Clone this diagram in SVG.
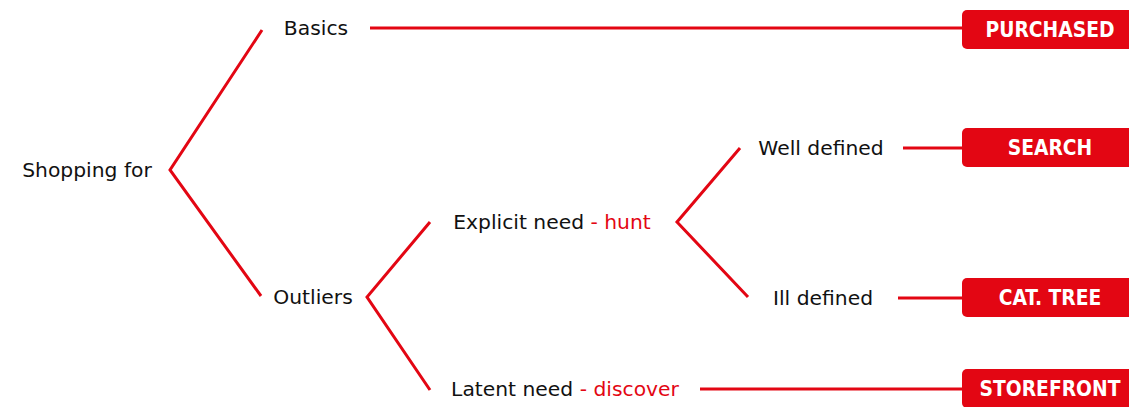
<svg xmlns="http://www.w3.org/2000/svg" width="1129" height="407" viewBox="0 0 1129 407">
  <style>
    .lbl { font-family: "DejaVu Sans", sans-serif; font-size: 20.3px; fill: #111111; text-anchor: middle; dominant-baseline: central; }
    .hi { fill: #e30613; }
    .tag rect { fill: #e30613; }
    .tag text { font-family: "DejaVu Sans Condensed", "DejaVu Sans", sans-serif; font-weight: bold; font-size: 20.8px; fill: #ffffff; text-anchor: middle; dominant-baseline: central; }
    .wire { fill: none; stroke: #e30613; stroke-width: 3; stroke-linejoin: miter; }
  </style>
  <rect width="1129" height="407" fill="#ffffff"/>

  <g id="connectors">
    <polyline class="wire" points="262,30 170,170 261,296"/>
    <polyline class="wire" points="430,222 367,297 430,390"/>
    <polyline class="wire" points="740,148 677,222 748,297"/>
    <line class="wire" x1="370" y1="28" x2="964" y2="28"/>
    <line class="wire" x1="903" y1="148" x2="964" y2="148"/>
    <line class="wire" x1="898" y1="298" x2="964" y2="298"/>
    <line class="wire" x1="700" y1="389" x2="964" y2="389"/>
  </g>

  <g id="shopping-for"><text class="lbl" x="87" y="170">Shopping for</text></g>
  <g id="basics"><text class="lbl" x="316" y="28">Basics</text></g>
  <g id="outliers"><text class="lbl" x="313" y="297">Outliers</text></g>
  <g id="explicit-need"><text class="lbl" x="552" y="222">Explicit need <tspan class="hi">- hunt</tspan></text></g>
  <g id="latent-need"><text class="lbl" x="565" y="389">Latent need <tspan class="hi">- discover</tspan></text></g>
  <g id="well-defined"><text class="lbl" x="821" y="148">Well defined</text></g>
  <g id="ill-defined"><text class="lbl" x="823" y="298">Ill defined</text></g>

  <g id="purchased" class="tag"><rect x="962" y="10" width="178" height="39" rx="5"/><text x="1050" y="29.5">PURCHASED</text></g>
  <g id="search" class="tag"><rect x="962" y="128" width="178" height="39" rx="5"/><text x="1050" y="147.5">SEARCH</text></g>
  <g id="cat-tree" class="tag"><rect x="962" y="278" width="178" height="39" rx="5"/><text x="1050" y="297.5">CAT. TREE</text></g>
  <g id="storefront" class="tag"><rect x="962" y="369" width="178" height="39" rx="5"/><text x="1050" y="388.5">STOREFRONT</text></g>
</svg>
